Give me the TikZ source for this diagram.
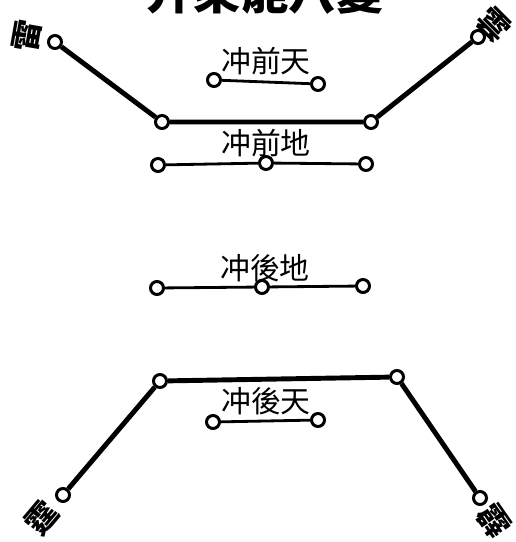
\documentclass[tikz,border=0pt]{standalone}
\usepackage{fontspec}
\newfontfamily\cjk{Noto Sans CJK TC}
\usetikzlibrary{positioning}
\tikzset{
	knot/.style    ={circle, draw=black, line width=1.7pt, fill=white, minimum size=0.26cm, inner sep=0pt},
	bar/.style     ={line width=2.8pt, black},
	thinbar/.style ={line width=1.6pt, black},
	lbl/.style     ={font=\cjk\fontsize{17pt}{17pt}\selectfont, inner sep=0pt},
	cornerlbl/.style={font=\cjk\bfseries\fontsize{18pt}{18pt}\selectfont, inner sep=0pt},
}

\begin{document}
\begin{tikzpicture}[x=0.02cm, y=-0.02cm]
	\useasboundingbox (0,0) rectangle (515,542);
	\clip (0,0) rectangle (515,542);
	% title, cut at the top edge
	\node[font=\cjk\bfseries\fontsize{27pt}{27pt}\selectfont, inner sep=0pt] (title) at (265,-9) {升乘能八變};
	% front frame
	\node[knot] (qA) at (55,42) {};
	\node[knot] (qB) at (162,122) {};
	\node[knot] (qC) at (371,122) {};
	\node[knot] (qD) at (478,37) {};
	\draw[bar] (qA) -- (qB) -- (qC) -- (qD);
	\node[cornerlbl, rotate=80] (lTL) at (27,36) {雷};
	\node[cornerlbl, rotate=-45] (lTR) at (494,25) {雲};
	% front heaven
	\node[knot] (qtL) at (214,80) {};
	\node[knot] (qtR) at (318,84) {};
	\draw[thinbar] (qtL) -- (qtR);
	\node[lbl] (qt) at (266,61) {冲前天};
	% front earth
	\node[knot] (qdL) at (158,165) {};
	\node[knot] (qdM) at (266,163) {};
	\node[knot] (qdR) at (366,164) {};
	\draw[thinbar] (qdL) -- (qdM) -- (qdR);
	\node[lbl] (qd) at (266,143) {冲前地};
	% back earth
	\node[knot] (hdL) at (157,288) {};
	\node[knot] (hdM) at (262,287) {};
	\node[knot] (hdR) at (363,286) {};
	\draw[thinbar] (hdL) -- (hdM) -- (hdR);
	\node[lbl] (hd) at (265,268) {冲後地};
	% back frame
	\node[knot] (hA) at (63,495) {};
	\node[knot] (hB) at (160,381) {};
	\node[knot] (hC) at (397,377) {};
	\node[knot] (hD) at (480,498) {};
	\draw[bar] (hA) -- (hB) -- (hC) -- (hD);
	\node[cornerlbl, rotate=50] (lBL) at (42,518) {霆};
	\node[cornerlbl, rotate=-55] (lBR) at (494,521) {霹};
	% back heaven
	\node[knot] (htL) at (213,422) {};
	\node[knot] (htR) at (318,420) {};
	\draw[thinbar] (htL) -- (htR);
	\node[lbl] (ht) at (266,401) {冲後天};
\end{tikzpicture}
\end{document}
